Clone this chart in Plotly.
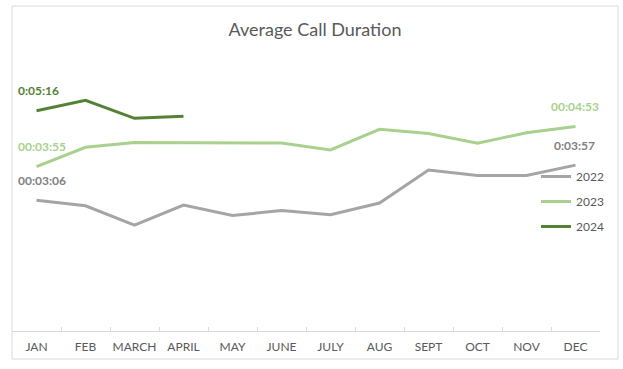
import plotly.graph_objects as go

months = ["JAN", "FEB", "MARCH", "APRIL", "MAY", "JUNE", "JULY", "AUG", "SEPT", "OCT", "NOV", "DEC"]

# average call duration in seconds
sec_2022 = [186, 178, 150, 179, 164, 171, 165, 182, 230, 222, 222, 237]
sec_2023 = [235, 263, 270, 270, 269, 269, 259, 289, 283, 269, 284, 293]
sec_2024 = [316, 331, 305, 308]

# data labels shown on the chart: (month index, text)
labels_2022 = [(0, "00:03:06"), (11, "0:03:57")]
labels_2023 = [(0, "00:03:55"), (11, "00:04:53")]
labels_2024 = [(0, "0:05:16")]

series = [
    ("2022", sec_2022, "#A5A5A5", "#7F7F7F", labels_2022),
    ("2023", sec_2023, "#A9D18E", "#A9D18E", labels_2023),
    ("2024", sec_2024, "#548235", "#548235", labels_2024),
]

W, H = 623, 369
L, R, T, B = 12, 600, 60, 331  # plot area in pixels
FONT = "Lato"

fig = go.Figure()
annotations = []
for i, (name, vals, color, lab_color, labs) in enumerate(series):
    fig.add_trace(go.Scatter(
        x=months[:len(vals)], y=vals, name=name, mode="lines",
        line=dict(color=color, width=3), legendgroup=name,
        hoverinfo="skip",
    ))
    for idx, txt in labs:
        first = idx == 0
        annotations.append(dict(
            x=months[idx], y=vals[idx], xref="x", yref="y", text="<b>%s</b>" % txt,
            showarrow=False, yshift=20, borderpad=0,
            xanchor="left" if first else "center", xshift=-20 if first else -1,
            font=dict(family=FONT, size=12, color=lab_color),
        ))

def px_x(p):
    return (p - L) / (R - L)

def px_y(p):
    return (B - p) / (B - T)

shapes = [dict(type="rect", xref="paper", yref="paper",
               x0=px_x(12), x1=px_x(618), y0=px_y(359), y1=px_y(6),
               line=dict(color="#D9D9D9", width=1), fillcolor="rgba(0,0,0,0)", layer="below")]

fig.update_layout(
    width=W, height=H, autosize=False,
    margin=dict(l=L, r=W - R, t=T, b=H - B, pad=0, autoexpand=False),
    paper_bgcolor="white", plot_bgcolor="white",
    font=dict(family=FONT, color="#595959"),
    title=dict(text="Average Call Duration", x=315 / W, xanchor="center", xref="container",
               y=1 - 30 / H, yanchor="middle", yref="container", automargin=False,
               font=dict(family=FONT, size=18, color="#595959")),
    xaxis=dict(type="category", categoryorder="array", categoryarray=months,
               range=[-0.5, 11.5], showline=True, linecolor="#D9D9D9", linewidth=1,
               ticks="inside", ticklen=4, tickcolor="#D9D9D9", tickson="boundaries",
               showgrid=False, zeroline=False, ticklabelstandoff=5, tickangle=0,
               automargin=False,
               tickfont=dict(family=FONT, size=12, color="#595959")),
    yaxis=dict(range=[-3.7, 389.6], visible=False, showgrid=False, zeroline=False,
               fixedrange=True, automargin=False),
    showlegend=True,
    legend=dict(x=px_x(536), xanchor="left", y=px_y(162), yanchor="top",
                bgcolor="rgba(0,0,0,0)", tracegroupgap=6,
                font=dict(family=FONT, size=12, color="#595959")),
    annotations=annotations,
    shapes=shapes,
)

fig.write_html("out.html", config={"displayModeBar": False, "staticPlot": True},
               post_script="document.body.style.margin='0';document.body.style.overflow='hidden';")
